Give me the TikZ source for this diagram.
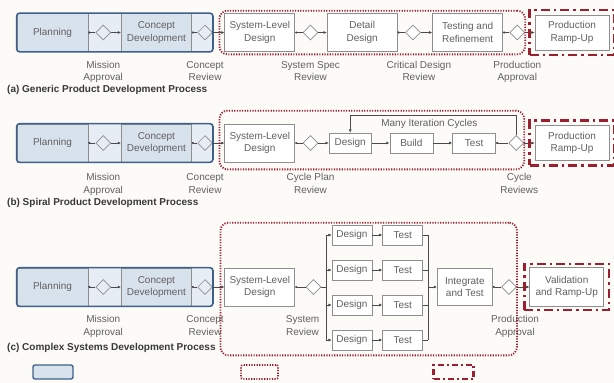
\documentclass[tikz,border=0pt]{standalone}
\usepackage{fontspec}
\setmainfont{Liberation Sans}
\usetikzlibrary{arrows.meta, positioning, fit, shapes.geometric, backgrounds}

\definecolor{frontblue}{HTML}{3F6088}
\definecolor{frontfill}{HTML}{E6EDF4}
\definecolor{stagefill}{HTML}{D8E2ED}
\definecolor{boxline}{HTML}{8E8E8E}
\definecolor{wire}{HTML}{4A4A4A}
\definecolor{darkred}{HTML}{9C1F2F}
\definecolor{labelgrey}{HTML}{606060}
\definecolor{paper}{HTML}{FCFBF8}

\begin{document}
\begin{tikzpicture}[
        x=1pt, y=-1pt,
        font=\fontsize{10}{12.5}\selectfont, text=labelgrey,
        stage/.style={draw=boxline, line width=0.7pt, fill=white, minimum width=70pt, minimum height=38pt, align=center, inner sep=1pt},
        small/.style={stage, minimum width=40pt, minimum height=20pt},
        gate/.style={diamond, draw=boxline, line width=0.7pt, fill=white, inner sep=0pt, minimum width=15pt, minimum height=15pt},
        note/.style={align=center, anchor=north, inner sep=1pt, yshift=-8pt},
        caption/.style={font=\fontsize{10}{12}\selectfont\bfseries, text=black!78, anchor=west, inner sep=0pt},
        front/.style={draw=frontblue, line width=1.6pt, rounded corners=3pt, inner sep=0pt},
        iter/.style={draw=darkred, line width=1.8pt, dash pattern=on 1.2pt off 1.4pt, rounded corners=8pt, inner sep=0pt},
        ramp/.style={draw=darkred, line width=2.4pt, dash pattern=on 9pt off 4pt on 2.4pt off 4pt, inner sep=0pt},
        link/.style={wire, line width=0.7pt, {Circle[length=2.2pt]}-},
        feed/.style={wire, line width=0.7pt, -{Latex[length=3.2pt, width=3pt]}}
        ]
        \useasboundingbox (0,0) rectangle (614,383);
        \begin{scope}[on background layer]
            \fill[paper] (0,0) rectangle (614,383);
        \end{scope}
        % planning and concept development, the same in all three processes
        \foreach \r/\cy/\dn in {a/32.5/0, b/143/2, c/287/0} {
            \node[stage, fill=stagefill, minimum width=71pt] (plan-\r) at (52.5,\cy) {Planning};
            \node[gate, fill=frontfill, right=7pt of plan-\r] (mis-\r) {};
            \node[stage, fill=stagefill, right=10pt of mis-\r] (con-\r) {Concept\\Development};
            \node[gate, fill=frontfill, right=5.5pt of con-\r] (rev-\r) {};
            \draw[link] (plan-\r) -- (mis-\r);
            \draw[feed] (mis-\r) -- (con-\r);
            \draw[link] (con-\r) -- (rev-\r);
            \begin{scope}[on background layer]
                \node[fit=(plan-\r)(rev-\r), inner sep=0pt, fill=frontfill, rounded corners=3pt] (frontfill-\r) {};
            \end{scope}
            \node[front, fit=(plan-\r)(rev-\r)] (front-\r) {};
            \node[note] (mis-\r-txt) at ([yshift=-\dn pt]mis-\r |- plan-\r.south) {Mission\\Approval};
            \node[note] (rev-\r-txt) at ([yshift=-\dn pt]rev-\r |- plan-\r.south) {Concept\\Review};
        }

        % (a) generic process
        \node[stage, right=11.5pt of rev-a] (sys-a) {System-Level\\Design};
        \node[gate, right=7.5pt of sys-a] (spec-a) {};
        \node[stage, right=8.5pt of spec-a] (det-a) {Detail\\Design};
        \node[gate, right=7.5pt of det-a] (cdr-a) {};
        \node[stage, right=11.5pt of cdr-a] (tst-a) {Testing and\\Refinement};
        \node[gate, right=6.5pt of tst-a] (pap-a) {};
        \node[stage, minimum width=74pt, minimum height=35pt, right=9.5pt of pap-a] (ramp-a) {Production\\Ramp-Up};
        \draw[feed] (rev-a) -- (sys-a);
        \draw[link] (sys-a) -- (spec-a);
        \draw[feed] (spec-a) -- (det-a);
        \draw[link] (det-a) -- (cdr-a);
        \draw[feed] (cdr-a) -- (tst-a);
        \draw[link] (tst-a) -- (pap-a);
        \draw[feed] (pap-a) -- (ramp-a);
        \node[note] (spec-a-txt) at (spec-a |- sys-a.south) {System Spec\\Review};
        \node[note, xshift=6pt] (cdr-a-txt) at (cdr-a |- sys-a.south) {Critical Design\\Review};
        \node[note] (pap-a-txt) at (pap-a |- sys-a.south) {Production\\Approval};
        \node[caption] (cap-a) at (7,90) {(a) Generic Product Development Process};

        % (b) spiral process
        \node[stage, right=11.5pt of rev-b] (sys-b) {System-Level\\Design};
        \node[gate, right=7.5pt of sys-b] (cpr-b) {};
        \node[small, minimum width=42pt, right=10.5pt of cpr-b] (des-b) {Design};
        \node[small, minimum width=43pt, right=18pt of des-b] (bld-b) {Build};
        \node[small, minimum width=43pt, right=19pt of bld-b] (tst-b) {Test};
        \node[gate, right=12.5pt of tst-b] (cyc-b) {};
        \node[stage, minimum width=74pt, minimum height=35pt, right=10.5pt of cyc-b] (ramp-b) {Production\\Ramp-Up};
        \draw[feed] (rev-b) -- (sys-b);
        \draw[link] (sys-b) -- (cpr-b);
        \draw[feed] (cpr-b) -- (des-b);
        \draw[feed] (des-b) -- (bld-b);
        \draw[feed] (bld-b) -- (tst-b);
        \draw[link] (tst-b) -- (cyc-b);
        \draw[feed] (cyc-b) -- (ramp-b);
        \draw[feed] (cyc-b.north) -- ++(0,-20) -| (des-b.north);
        \node[above=1pt of bld-b.north, xshift=18pt] (many-b) {Many Iteration Cycles};
        \node[note, yshift=-2pt] (cpr-b-txt) at (cpr-b |- sys-b.south) {Cycle Plan\\Review};
        \node[note, yshift=-2pt, xshift=3pt] (cyc-b-txt) at (cyc-b |- sys-b.south) {Cycle\\Reviews};
        \node[caption] (cap-b) at (7,203) {(b) Spiral Product Development Process};

        % (c) complex systems process
        \node[stage, right=11.5pt of rev-c] (sys-c) {System-Level\\Design};
        \node[gate, right=10.5pt of sys-c] (srev-c) {};
        \coordinate[right=4.5pt of srev-c] (split-c);
        \coordinate (join-c) at (428,287);
        \foreach \i/\dy in {1/235, 2/270, 3/305, 4/340} {
            \node[small] (des-c\i) at (352,\dy) {Design};
            \node[small, right=10pt of des-c\i] (tst-c\i) {Test};
            \draw[feed] (split-c |- des-c\i) -- (des-c\i);
            \draw[feed] (des-c\i) -- (tst-c\i);
            \draw[wire, line width=0.7pt] (tst-c\i) -- (join-c |- tst-c\i);
        }
        \node[stage, minimum width=55pt, minimum height=37pt, right=9pt of join-c] (int-c) {Integrate\\and Test};
        \node[gate, right=8.5pt of int-c] (pap-c) {};
        \node[stage, minimum width=74pt, minimum height=39pt, right=12.5pt of pap-c] (val-c) {Validation\\and Ramp-Up};
        \draw[feed] (rev-c) -- (sys-c);
        \draw[link] (sys-c) -- (srev-c);
        \draw[wire, line width=0.7pt] (srev-c) -- (split-c);
        \draw[wire, line width=0.7pt] (split-c |- des-c1) -- (split-c |- des-c4);
        \draw[wire, line width=0.7pt] (join-c |- tst-c1) -- (join-c |- tst-c4);
        \draw[feed] (join-c) -- (int-c);
        \draw[link] (int-c) -- (pap-c);
        \draw[feed] (pap-c) -- (val-c);
        \node[note, xshift=-11pt] (srev-c-txt) at (srev-c |- sys-c.south) {System\\Review};
        \node[note, xshift=6pt] (pap-c-txt) at (pap-c |- sys-c.south) {Production\\Approval};
        \node[caption] (cap-c) at (7,348) {(c) Complex Systems Development Process};

        % iteration and ramp-up frames
        \node[iter, fit={([xshift=-5pt, yshift=2.5pt]sys-a.north west) ([yshift=-2.5pt]pap-a.east |- sys-a.south)}] (iter-a) {};
        \node[iter, fit={([xshift=-5pt, yshift=13pt]sys-b.north west) ([yshift=-7pt]cyc-b.east |- sys-b.south)}] (iter-b) {};
        \node[iter, fit={([xshift=-4pt, yshift=2pt]sys-c.west |- des-c1.north) ([yshift=-5pt]pap-c.east |- des-c4.south)}] (iter-c) {};
        \node[ramp, inner xsep=5pt, inner ysep=4.5pt, fit=(ramp-a)] (rampbox-a) {};
        \node[ramp, inner xsep=5pt, inner ysep=4.5pt, fit=(ramp-b)] (rampbox-b) {};
        \node[ramp, inner xsep=5pt, inner ysep=3pt, fit=(val-c)] (rampbox-c) {};

        % key
        \node[draw=frontblue, line width=1.4pt, fill=stagefill, rounded corners=2pt, minimum width=40pt, minimum height=14pt] (key-front) at (53,372) {};
        \node[iter, rounded corners=2pt, minimum width=37pt, minimum height=14pt] (key-iter) at (259.5,372) {};
        \node[ramp, dash pattern=on 6pt off 3pt on 2pt off 3pt, minimum width=40pt, minimum height=14pt] (key-ramp) at (453.5,372) {};
\end{tikzpicture}
\end{document}
